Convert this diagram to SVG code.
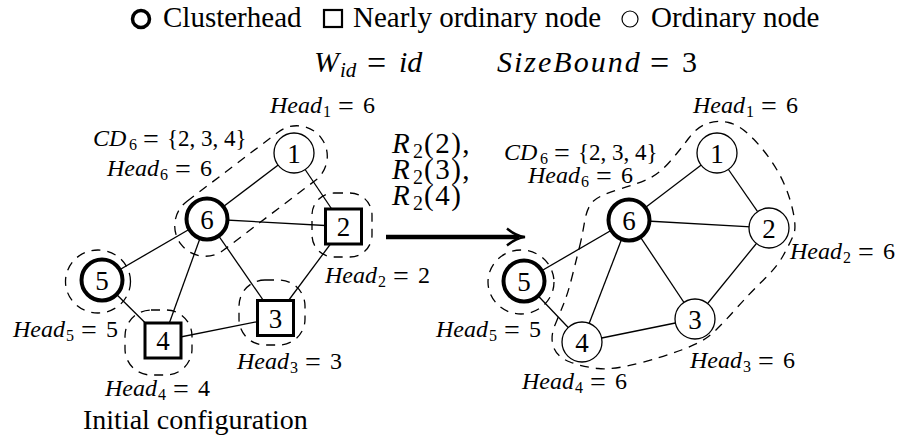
<svg xmlns="http://www.w3.org/2000/svg" width="901" height="438" viewBox="0 0 901 438">
<rect x="0" y="0" width="901" height="438" fill="#fff"/>

<g id="legend">
  <circle cx="141" cy="19" r="8.5" fill="none" stroke="#000" stroke-width="3.5"/>
  <text x="163" y="27" font-family="Liberation Serif" font-size="29">Clusterhead</text>
  <rect x="324" y="10" width="18" height="17" fill="none" stroke="#000" stroke-width="2.2"/>
  <text x="353" y="27" font-family="Liberation Serif" font-size="29">Nearly ordinary node</text>
  <circle cx="630" cy="19" r="8" fill="none" stroke="#000" stroke-width="1.2"/>
  <text x="651" y="27" font-family="Liberation Serif" font-size="29">Ordinary node</text>
</g>
<g id="params">
  <text x="314" y="72" font-family="Liberation Serif" font-size="30" font-style="italic">W<tspan font-family="Liberation Serif" x="340" dy="5" font-size="21">id</tspan><tspan font-family="Liberation Serif" x="367" dy="-3" font-style="normal" font-size="34">=</tspan><tspan font-family="Liberation Serif" x="399" dy="-2">id</tspan></text>
  <text x="497" y="72" font-family="Liberation Serif" font-size="30" font-style="italic"><tspan font-family="Liberation Serif" letter-spacing="2">SizeBound</tspan><tspan font-family="Liberation Serif" x="650" dy="2" font-style="normal" font-size="34">=</tspan><tspan font-family="Liberation Serif" x="682" dy="-2" font-style="normal">3</tspan></text>
</g>

<g id="connectors" stroke="#000" stroke-width="1.3" fill="none">
  <g id="left-edges">
    <line x1="294" y1="153" x2="207" y2="219"/>
    <line x1="294" y1="153" x2="343.5" y2="226.5"/>
    <line x1="207" y1="219" x2="343.5" y2="226.5"/>
    <line x1="207" y1="219" x2="102" y2="280"/>
    <line x1="207" y1="219" x2="163" y2="340.5"/>
    <line x1="207" y1="219" x2="275.5" y2="318"/>
    <line x1="343.5" y1="226.5" x2="275.5" y2="318"/>
    <line x1="102" y1="280" x2="163" y2="340.5"/>
    <line x1="163" y1="340.5" x2="275.5" y2="318"/>
  </g>
  <g id="right-edges">
    <line x1="717" y1="153" x2="629" y2="220"/>
    <line x1="717" y1="153" x2="769" y2="228"/>
    <line x1="629" y1="220" x2="769" y2="228"/>
    <line x1="629" y1="220" x2="524" y2="281"/>
    <line x1="629" y1="220" x2="582" y2="342"/>
    <line x1="629" y1="220" x2="695" y2="319"/>
    <line x1="769" y1="228" x2="695" y2="319"/>
    <line x1="524" y1="281" x2="582" y2="342"/>
    <line x1="582" y1="342" x2="695" y2="319"/>
  </g>
  <g id="transition">
    <line x1="386" y1="237" x2="519" y2="237" stroke-width="4.5"/>
    <path d="M507,228.5 Q516,236 525,237 Q516,238 507,245.5" stroke-width="2.5"/>
  </g>
</g>

<g id="clusters" stroke="#000" stroke-width="1.3" fill="none" stroke-dasharray="9 7">
  <rect x="-88" y="-30.5" width="176" height="61" rx="30.5" transform="translate(251,191) rotate(-37.2)"/>
  <rect x="312" y="193" width="60" height="64" rx="22"/>
  <ellipse cx="98" cy="281.5" rx="32.5" ry="31.5"/>
  <rect x="125" y="310" width="67" height="65" rx="26"/>
  <rect x="239" y="280" width="66" height="65" rx="26"/>
  <ellipse cx="521" cy="282" rx="33" ry="32"/>
  <path d="M579.5,247 Q582,237 584.5,222 Q587,207 593.5,201 Q600,195 620,189 Q640,183 650,178 Q660,173 670,161.5 Q680,150 688.5,138.5 Q697,127 707,123.5 Q717,120 728.5,122.5 Q740,125 753.5,139 Q767,153 777,170 Q787,187 792,207 Q797,227 793.5,235 Q790,243 783.5,255 Q777,267 763.5,280 Q750,293 733.5,311.5 Q717,330 708.5,336.5 Q700,343 681.5,350 Q663,357 638,363.5 Q613,370 598,368.5 Q583,367 570,362 Q557,357 553.5,347 Q550,337 555,325 Q560,313 564,303 Q568,293 572.5,275 Q577,257 579.5,247 Z"/>
</g>

<g id="nodes">
<g id="L1"><circle cx="294" cy="153" r="20" fill="#fff" stroke="#000" stroke-width="1.3"/><text x="294" y="162.5" font-family="Liberation Serif" font-size="27" text-anchor="middle">1</text></g>
<g id="L6"><circle cx="207" cy="219" r="20.5" fill="#fff" stroke="#000" stroke-width="4"/><text x="207" y="228.5" font-family="Liberation Serif" font-size="27" text-anchor="middle">6</text></g>
<g id="L2"><rect x="325.5" y="209" width="36" height="35" fill="#fff" stroke="#000" stroke-width="3"/><text x="343.5" y="236" font-family="Liberation Serif" font-size="27" text-anchor="middle">2</text></g>
<g id="L5"><circle cx="102" cy="280" r="20.5" fill="#fff" stroke="#000" stroke-width="4"/><text x="102" y="289.5" font-family="Liberation Serif" font-size="27" text-anchor="middle">5</text></g>
<g id="L4"><rect x="145" y="323" width="36" height="35" fill="#fff" stroke="#000" stroke-width="3"/><text x="163" y="350" font-family="Liberation Serif" font-size="27" text-anchor="middle">4</text></g>
<g id="L3"><rect x="257.5" y="300.5" width="36" height="35" fill="#fff" stroke="#000" stroke-width="3"/><text x="275.5" y="327.5" font-family="Liberation Serif" font-size="27" text-anchor="middle">3</text></g>

<g id="R1"><circle cx="717" cy="153" r="20" fill="#fff" stroke="#000" stroke-width="1.3"/><text x="717" y="162.5" font-family="Liberation Serif" font-size="27" text-anchor="middle">1</text></g>
<g id="R6"><circle cx="629" cy="220" r="20.5" fill="#fff" stroke="#000" stroke-width="4"/><text x="629" y="229.5" font-family="Liberation Serif" font-size="27" text-anchor="middle">6</text></g>
<g id="R2"><circle cx="769" cy="228" r="20" fill="#fff" stroke="#000" stroke-width="1.3"/><text x="769" y="237.5" font-family="Liberation Serif" font-size="27" text-anchor="middle">2</text></g>
<g id="R5"><circle cx="524" cy="281" r="20.5" fill="#fff" stroke="#000" stroke-width="4"/><text x="524" y="290.5" font-family="Liberation Serif" font-size="27" text-anchor="middle">5</text></g>
<g id="R4"><circle cx="582" cy="342" r="20" fill="#fff" stroke="#000" stroke-width="1.3"/><text x="582" y="351.5" font-family="Liberation Serif" font-size="27" text-anchor="middle">4</text></g>
<g id="R3"><circle cx="695" cy="319" r="20" fill="#fff" stroke="#000" stroke-width="1.3"/><text x="695" y="328.5" font-family="Liberation Serif" font-size="27" text-anchor="middle">3</text></g>
</g>

<g id="labels">
  <text x="270" y="113" font-family="Liberation Serif" font-size="24" font-style="italic">Head<tspan font-family="Liberation Serif" font-size="16" font-style="normal" x="323" dy="4">1</tspan><tspan font-family="Liberation Serif" font-size="28" font-style="normal" x="338" dy="-2">=</tspan><tspan font-family="Liberation Serif" font-style="normal" x="363" dy="-2">6</tspan></text>
  <text x="93" y="146" font-family="Liberation Serif" font-size="24" font-style="italic">CD<tspan font-family="Liberation Serif" font-size="16" font-style="normal" x="129" dy="4">6</tspan><tspan font-family="Liberation Serif" font-size="28" font-style="normal" x="143" dy="-2">=</tspan><tspan font-family="Liberation Serif" font-size="23" font-style="normal" x="167" dy="-2">{2, 3, 4}</tspan></text>
  <text x="107" y="176" font-family="Liberation Serif" font-size="24" font-style="italic">Head<tspan font-family="Liberation Serif" font-size="16" font-style="normal" x="160" dy="4">6</tspan><tspan font-family="Liberation Serif" font-size="28" font-style="normal" x="175" dy="-2">=</tspan><tspan font-family="Liberation Serif" font-style="normal" x="200" dy="-2">6</tspan></text>
  <text x="325" y="283" font-family="Liberation Serif" font-size="24" font-style="italic">Head<tspan font-family="Liberation Serif" font-size="16" font-style="normal" x="378" dy="4">2</tspan><tspan font-family="Liberation Serif" font-size="28" font-style="normal" x="393" dy="-2">=</tspan><tspan font-family="Liberation Serif" font-style="normal" x="418" dy="-2">2</tspan></text>
  <text x="13" y="337" font-family="Liberation Serif" font-size="24" font-style="italic">Head<tspan font-family="Liberation Serif" font-size="16" font-style="normal" x="66" dy="4">5</tspan><tspan font-family="Liberation Serif" font-size="28" font-style="normal" x="81" dy="-2">=</tspan><tspan font-family="Liberation Serif" font-style="normal" x="106" dy="-2">5</tspan></text>
  <text x="237" y="369" font-family="Liberation Serif" font-size="24" font-style="italic">Head<tspan font-family="Liberation Serif" font-size="16" font-style="normal" x="290" dy="4">3</tspan><tspan font-family="Liberation Serif" font-size="28" font-style="normal" x="305" dy="-2">=</tspan><tspan font-family="Liberation Serif" font-style="normal" x="330" dy="-2">3</tspan></text>
  <text x="105" y="396" font-family="Liberation Serif" font-size="24" font-style="italic">Head<tspan font-family="Liberation Serif" font-size="16" font-style="normal" x="158" dy="4">4</tspan><tspan font-family="Liberation Serif" font-size="28" font-style="normal" x="173" dy="-2">=</tspan><tspan font-family="Liberation Serif" font-style="normal" x="198" dy="-2">4</tspan></text>

  <text x="693" y="113" font-family="Liberation Serif" font-size="24" font-style="italic">Head<tspan font-family="Liberation Serif" font-size="16" font-style="normal" x="746" dy="4">1</tspan><tspan font-family="Liberation Serif" font-size="28" font-style="normal" x="761" dy="-2">=</tspan><tspan font-family="Liberation Serif" font-style="normal" x="786" dy="-2">6</tspan></text>
  <text x="504" y="160" font-family="Liberation Serif" font-size="24" font-style="italic">CD<tspan font-family="Liberation Serif" font-size="16" font-style="normal" x="540" dy="4">6</tspan><tspan font-family="Liberation Serif" font-size="28" font-style="normal" x="554" dy="-2">=</tspan><tspan font-family="Liberation Serif" font-size="23" font-style="normal" x="578" dy="-2">{2, 3, 4}</tspan></text>
  <text x="528" y="183" font-family="Liberation Serif" font-size="24" font-style="italic">Head<tspan font-family="Liberation Serif" font-size="16" font-style="normal" x="581" dy="4">6</tspan><tspan font-family="Liberation Serif" font-size="28" font-style="normal" x="596" dy="-2">=</tspan><tspan font-family="Liberation Serif" font-style="normal" x="621" dy="-2">6</tspan></text>
  <text x="790" y="259" font-family="Liberation Serif" font-size="24" font-style="italic">Head<tspan font-family="Liberation Serif" font-size="16" font-style="normal" x="843" dy="4">2</tspan><tspan font-family="Liberation Serif" font-size="28" font-style="normal" x="858" dy="-2">=</tspan><tspan font-family="Liberation Serif" font-style="normal" x="883" dy="-2">6</tspan></text>
  <text x="436" y="337" font-family="Liberation Serif" font-size="24" font-style="italic">Head<tspan font-family="Liberation Serif" font-size="16" font-style="normal" x="489" dy="4">5</tspan><tspan font-family="Liberation Serif" font-size="28" font-style="normal" x="504" dy="-2">=</tspan><tspan font-family="Liberation Serif" font-style="normal" x="529" dy="-2">5</tspan></text>
  <text x="690" y="368" font-family="Liberation Serif" font-size="24" font-style="italic">Head<tspan font-family="Liberation Serif" font-size="16" font-style="normal" x="743" dy="4">3</tspan><tspan font-family="Liberation Serif" font-size="28" font-style="normal" x="758" dy="-2">=</tspan><tspan font-family="Liberation Serif" font-style="normal" x="783" dy="-2">6</tspan></text>
  <text x="522" y="389" font-family="Liberation Serif" font-size="24" font-style="italic">Head<tspan font-family="Liberation Serif" font-size="16" font-style="normal" x="575" dy="4">4</tspan><tspan font-family="Liberation Serif" font-size="28" font-style="normal" x="590" dy="-2">=</tspan><tspan font-family="Liberation Serif" font-style="normal" x="615" dy="-2">6</tspan></text>

  <text x="392" y="153" font-family="Liberation Serif" font-size="29" font-style="italic">R<tspan font-family="Liberation Serif" x="413" dy="5" font-size="20" font-style="normal">2</tspan><tspan font-family="Liberation Serif" x="424" dy="-5" font-style="normal" letter-spacing="1.5">(2),</tspan></text>
  <text x="392" y="179" font-family="Liberation Serif" font-size="29" font-style="italic">R<tspan font-family="Liberation Serif" x="413" dy="5" font-size="20" font-style="normal">2</tspan><tspan font-family="Liberation Serif" x="424" dy="-5" font-style="normal" letter-spacing="1.5">(3),</tspan></text>
  <text x="392" y="205" font-family="Liberation Serif" font-size="29" font-style="italic">R<tspan font-family="Liberation Serif" x="413" dy="5" font-size="20" font-style="normal">2</tspan><tspan font-family="Liberation Serif" x="424" dy="-5" font-style="normal" letter-spacing="1.5">(4)</tspan></text>

  <text x="83" y="429" font-family="Liberation Serif" font-size="28">Initial configuration</text>
</g>
</svg>
